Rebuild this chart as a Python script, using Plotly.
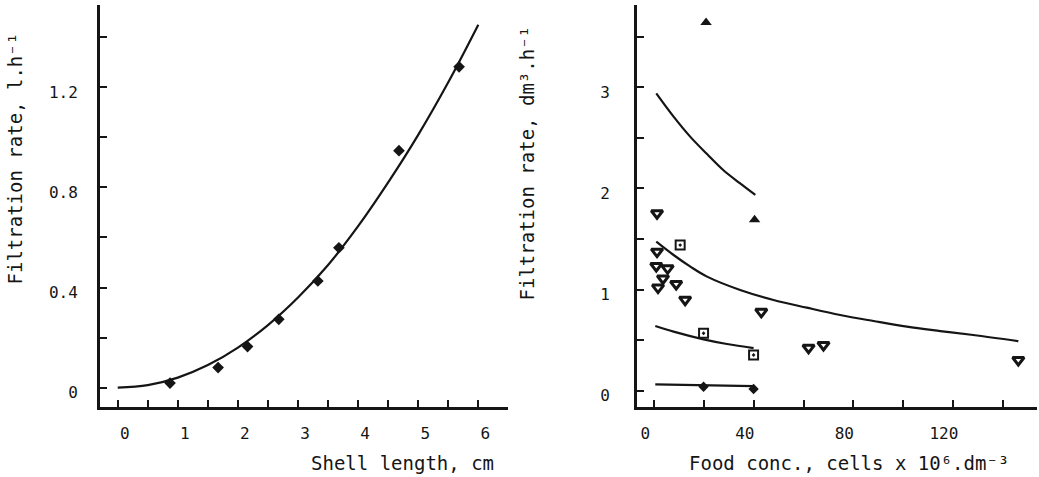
import plotly.graph_objects as go

# ---------------- data: left panel (shell length vs filtration rate) ----------
shell_len = [0.87, 1.67, 2.16, 2.68, 3.33, 3.68, 4.68, 5.68]
filt_rate_l = [0.018, 0.08, 0.164, 0.273, 0.426, 0.559, 0.947, 1.282]
fit_len = [0, 0.5, 1, 1.5, 2, 2.5, 3, 3.5, 4, 4.5, 5, 5.5, 6]
fit_rate = [0.0, 0.01, 0.04, 0.09, 0.16, 0.25, 0.36, 0.49, 0.645, 0.82, 1.01, 1.22, 1.45]

# ---------------- data: right panel (food conc. vs filtration rate) ----------
tri_up_x = [20.8, 40.3]
tri_up_y = [3.64, 1.69]
tri_dn_x = [1.1, 1.1, 0.8, 5.35, 3.5, 1.5, 8.8, 12.4, 43.0, 62.0, 68.0, 146.3]
tri_dn_y = [1.755, 1.375, 1.233, 1.21, 1.11, 1.02, 1.055, 0.90, 0.78, 0.425, 0.452, 0.304]
square_x = [10.4, 19.8, 39.9]
square_y = [1.44, 0.568, 0.353]
diamond_x = [19.8, 39.9]
diamond_y = [0.04, 0.017]

curve_up_x = [0.8, 7.75, 14.5, 21.2, 27.8, 34.5, 40.6]
curve_up_y = [2.94, 2.71, 2.51, 2.34, 2.18, 2.05, 1.936]
curve_dn_x = [0.8, 7.75, 14.5, 21.2, 34.5, 47.9, 61.3, 74.7, 88.1, 101.5, 114.9, 128.2, 146.3]
curve_dn_y = [1.474, 1.342, 1.227, 1.128, 0.996, 0.897, 0.821, 0.749, 0.689, 0.633, 0.59, 0.551, 0.49]
curve_sq_x = [0.4, 7.75, 19.8, 29.2, 39.9]
curve_sq_y = [0.64, 0.584, 0.508, 0.462, 0.422]
curve_di_x = [0.4, 39.9]
curve_di_y = [0.063, 0.046]

# ---------------- tick labels ----------
left_x_ticks = [0, 1, 2, 3, 4, 5, 6]
left_x_text = ["0", "1", "2", "3", "4", "5", "6"]
left_y_ticks = [0, 0.4, 0.8, 1.2]
left_y_text = ["0", "0.4", "0.8", "1.2"]
right_x_ticks = [0, 40, 80, 120]
right_x_text = ["0", "40", "80", "120"]
right_y_ticks = [0, 1, 2, 3]
right_y_text = ["0", "1", "2", "3"]

INK = "#151515"
FONT = "DejaVu Sans Mono"
W, H = 1039, 477

fig = go.Figure()

# left panel
fig.add_trace(go.Scatter(x=fit_len, y=fit_rate, mode="lines", line=dict(color=INK, width=2.2, shape="spline"),
                         xaxis="x", yaxis="y", showlegend=False))
fig.add_trace(go.Scatter(x=shell_len, y=filt_rate_l, mode="markers",
                         marker=dict(symbol="diamond", size=9, color=INK),
                         xaxis="x", yaxis="y", showlegend=False))

# right panel
for cx, cy in [(curve_up_x, curve_up_y), (curve_dn_x, curve_dn_y), (curve_sq_x, curve_sq_y), (curve_di_x, curve_di_y)]:
    fig.add_trace(go.Scatter(x=cx, y=cy, mode="lines", line=dict(color=INK, width=2.2, shape="spline"),
                             xaxis="x2", yaxis="y2", showlegend=False))
fig.add_trace(go.Scatter(x=tri_up_x, y=tri_up_y, mode="markers",
                         marker=dict(symbol="triangle-up", size=10, color=INK),
                         xaxis="x2", yaxis="y2", showlegend=False))
fig.add_trace(go.Scatter(x=tri_dn_x, y=tri_dn_y, mode="markers",
                         marker=dict(symbol="triangle-down-open", size=10, color=INK, line=dict(width=3, color=INK)),
                         xaxis="x2", yaxis="y2", showlegend=False))
fig.add_trace(go.Scatter(x=square_x, y=square_y, mode="markers",
                         marker=dict(symbol="square-open-dot", size=9, color=INK, line=dict(width=2, color=INK)),
                         xaxis="x2", yaxis="y2", showlegend=False))
fig.add_trace(go.Scatter(x=diamond_x, y=diamond_y, mode="markers",
                         marker=dict(symbol="diamond", size=8, color=INK),
                         xaxis="x2", yaxis="y2", showlegend=False))

ydom = [1 - 406.7 / H, 1 - 5 / H]
common = dict(showline=True, linewidth=3, linecolor=INK, ticks="inside", ticklen=7, tickwidth=1.5,
              tickcolor=INK, showgrid=False, zeroline=False, tickmode="array",
              tickfont=dict(family=FONT, size=16, color=INK))


def minor(step):
    return dict(dtick=step, tick0=0, ticks="inside", ticklen=7, tickwidth=1.5, tickcolor=INK, showgrid=False)


fig.update_layout(
    width=W, height=H,
    margin=dict(l=0, r=0, t=0, b=0),
    paper_bgcolor="white", plot_bgcolor="white",
    xaxis=dict(domain=[100 / W, 508 / W], range=[-0.295, 6.494], anchor="y",
               tickvals=left_x_ticks, ticktext=left_x_text, minor=minor(0.5),
               ticklabelshift=7, ticklabelstandoff=10, **common),
    yaxis=dict(domain=ydom, range=[-0.0763, 1.529], anchor="x",
               tickvals=left_y_ticks, ticktext=left_y_text, minor=minor(0.2),
               ticklabelshift=5, ticklabelstandoff=16, **common),
    xaxis2=dict(domain=[637 / W, 1037 / W], range=[-6.95, 153.8], anchor="y2",
                tickvals=right_x_ticks, ticktext=right_x_text, minor=minor(20),
                ticklabelshift=-9, ticklabelstandoff=10, **common),
    yaxis2=dict(domain=ydom, range=[-0.158, 3.814], anchor="x2",
                tickvals=right_y_ticks, ticktext=right_y_text, minor=minor(0.5),
                ticklabelshift=5, ticklabelstandoff=21, **common),
    font=dict(family=FONT, color=INK),
)

title_font = dict(family=FONT, size=19, color=INK)
fig.add_annotation(text="Shell length, cm", xref="paper", yref="paper", x=402 / W, y=1 - 463 / H,
                   xanchor="center", yanchor="middle", showarrow=False, font=title_font)
fig.add_annotation(text="Food conc., cells x 10⁶.dm⁻³", xref="paper", yref="paper",
                   x=849 / W, y=1 - 463 / H, xanchor="center", yanchor="middle", showarrow=False, font=title_font)
fig.add_annotation(text="Filtration rate, l.h⁻¹", xref="paper", yref="paper", x=15 / W, y=1 - 158.5 / H,
                   xanchor="center", yanchor="middle", textangle=-90, showarrow=False, font=title_font)
fig.add_annotation(text="Filtration rate, dm³.h⁻¹", xref="paper", yref="paper",
                   x=526 / W, y=1 - 163.5 / H, xanchor="center", yanchor="middle", textangle=-90,
                   showarrow=False, font=title_font)

fig.write_html("out.html")
